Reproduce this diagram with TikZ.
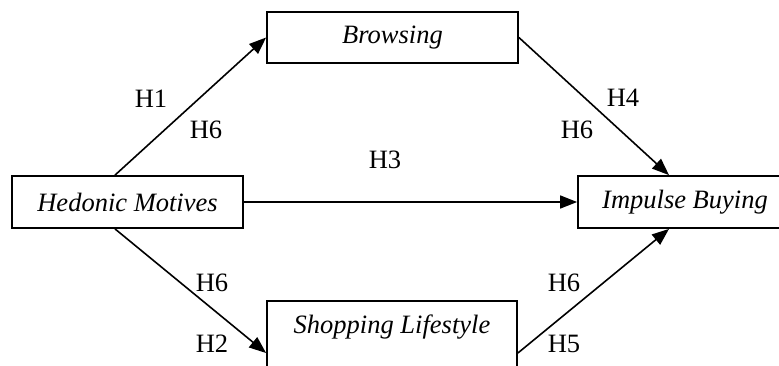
\documentclass[tikz,border=0pt]{standalone}
\usepackage{fontspec}
\setmainfont{Liberation Serif}
\usetikzlibrary{arrows.meta}

\newcommand\figfont{\fontsize{13.25}{16}\selectfont}

\begin{document}
\begin{tikzpicture}[x=0.5pt, y=-0.5pt, font=\figfont,
    box/.style={draw, line width=0.9pt, inner sep=0pt, font=\figfont\itshape},
    link/.style={line width=0.8pt, -{Triangle[length=8.5pt, width=6.5pt]}}]
  \useasboundingbox (0,0) rectangle (779,365);
  \clip (0,0) rectangle (779,365);

  % boxes
  \node[box, minimum width=115.5pt, minimum height=26pt] (hed) at (127.5,202) {Hedonic Motives};
  \node[box, minimum width=125.5pt, minimum height=25.5pt] (brw) at (392.5,37.5) {Browsing};
  \node[box, minimum width=125pt, minimum height=52pt] (shp) at (392,353) {};
  \node[font=\figfont\itshape] (shptxt) at (392,327) {Shopping Lifestyle};
  \node[box, minimum width=107pt, minimum height=26pt] (imp) at (685,202) {Impulse Buying};

  % paths
  \draw[link] ([xshift=-6.25pt]hed.north) -- (brw.west);
  \draw[link] (brw.east) -- ([xshift=-8pt]imp.north);
  \draw[link] (hed.east) -- (imp.west);
  \draw[link] ([xshift=-6.25pt]hed.south) -- (shp.west);
  \draw[link] (shp.east) -- ([xshift=-8pt]imp.south);

  % hypotheses
  \node (h1) at (151,99) {H1};
  \node (h6a) at (206,130) {H6};
  \node (h3) at (385,160) {H3};
  \node (h4) at (623,98) {H4};
  \node (h6b) at (577,130) {H6};
  \node (h6c) at (212,283) {H6};
  \node (h2) at (212,344) {H2};
  \node (h6d) at (564,283) {H6};
  \node (h5) at (564,344) {H5};
\end{tikzpicture}
\end{document}
